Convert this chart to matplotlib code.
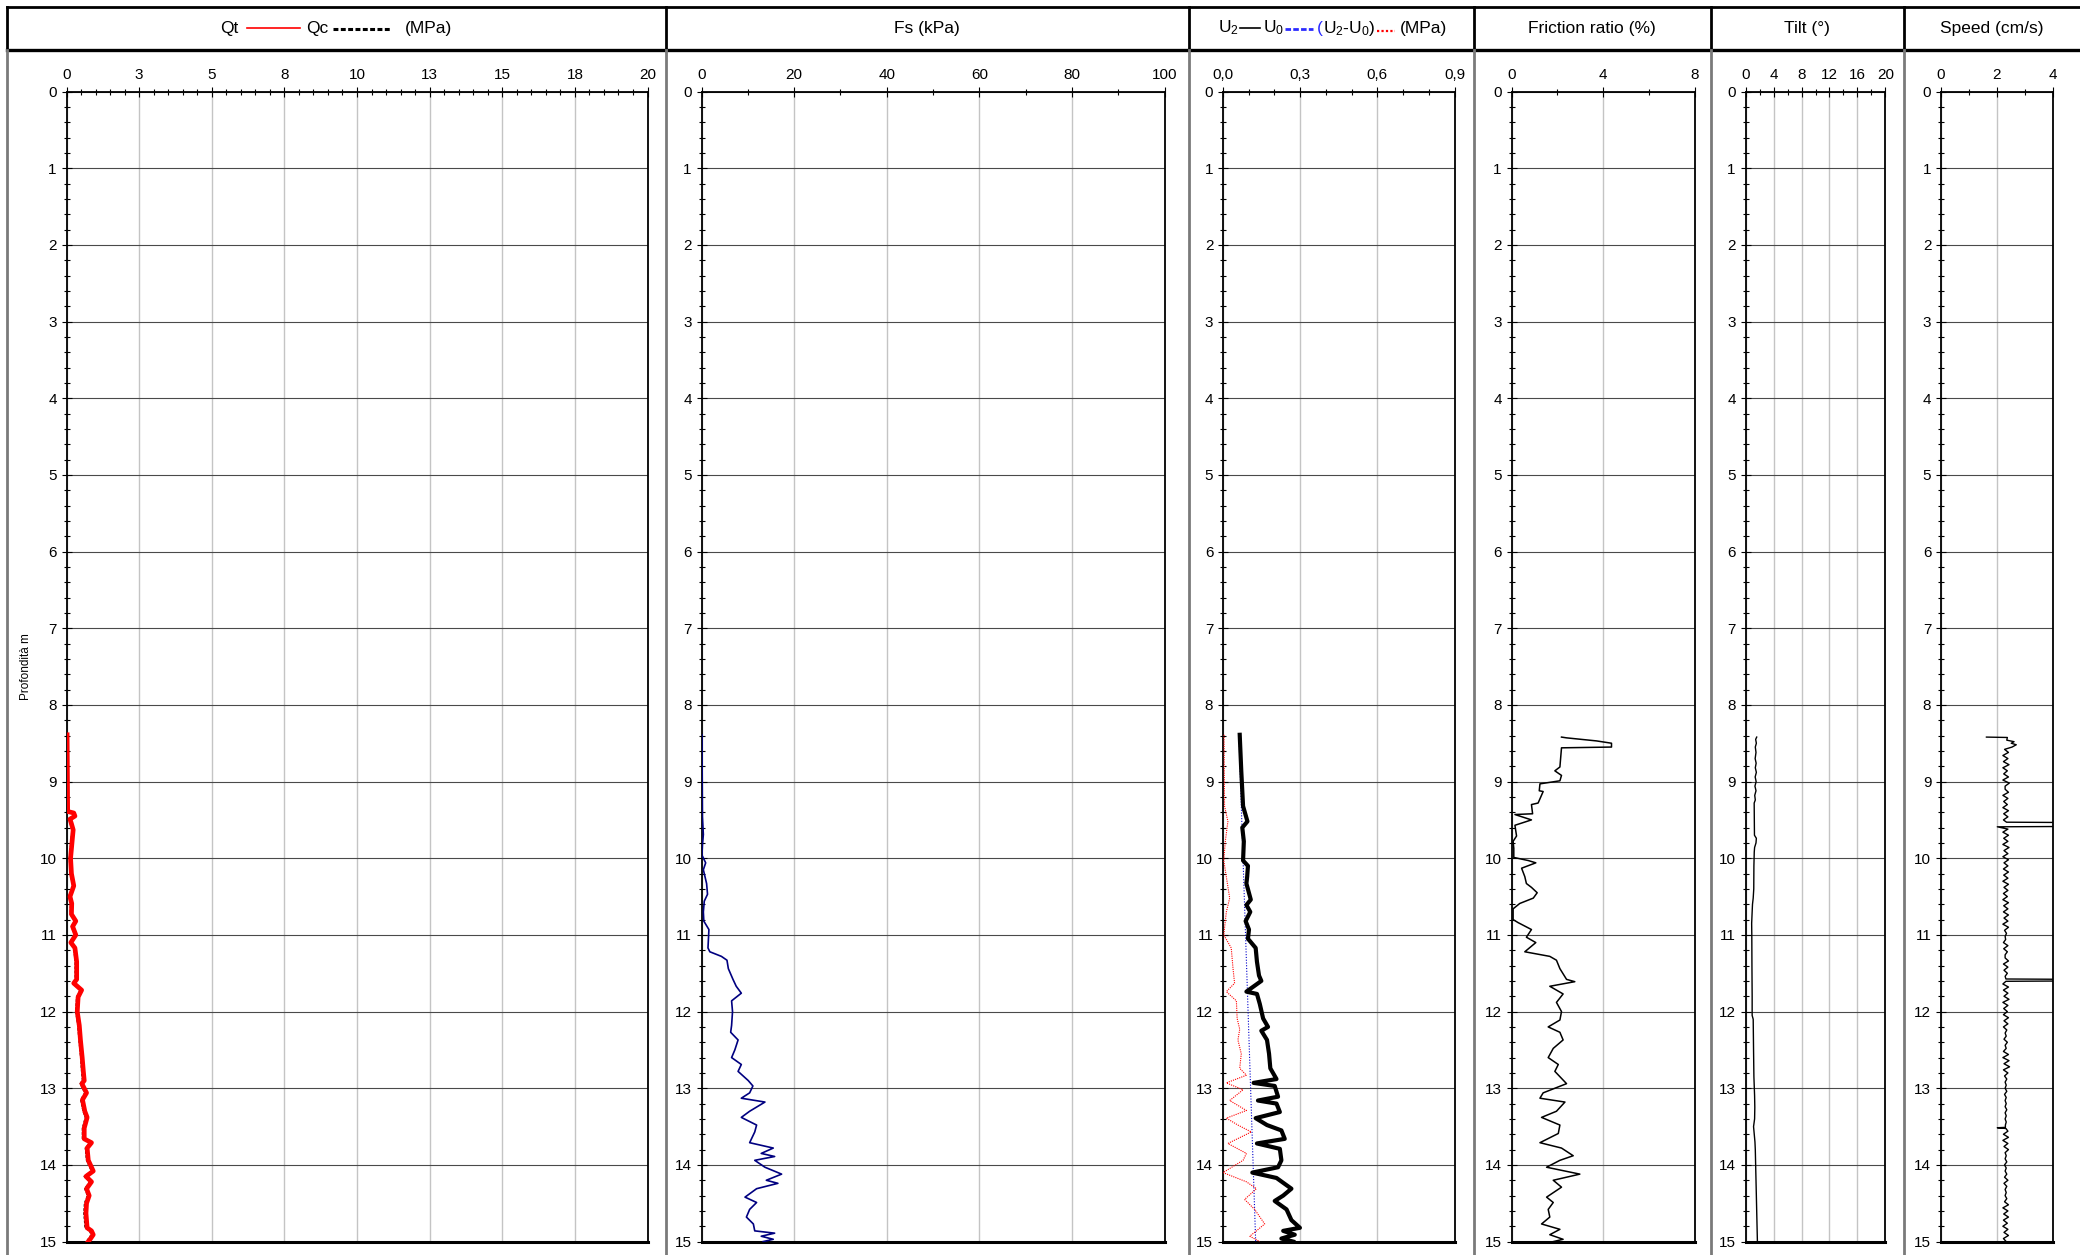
import matplotlib.pyplot as plt
from matplotlib.ticker import MultipleLocator

plt.rcParams['font.family'] = ['Liberation Sans', 'DejaVu Sans']

# --- CPT record, depth in m ---
qt_depth = [8.39, 9.39, 9.41, 9.45, 9.49, 9.55, 9.63, 9.75, 10.0, 10.2,
            10.36, 10.5, 10.59, 10.73, 10.82, 10.89, 11.0, 11.1, 11.17, 11.35,
            11.58, 11.63, 11.72, 11.81, 12.0, 12.18, 12.37, 12.6, 12.78, 12.9,
            12.94, 13.06, 13.15, 13.3, 13.38, 13.52, 13.66, 13.71, 13.78, 13.94,
            14.08, 14.15, 14.22, 14.31, 14.4, 14.5, 14.63, 14.82, 14.86, 14.91,
            14.96, 15.0]
qt = [0.02, 0.04, 0.25, 0.29, 0.12, 0.17, 0.23, 0.20, 0.14, 0.17,
      0.25, 0.12, 0.18, 0.17, 0.32, 0.21, 0.32, 0.15, 0.29, 0.35,
      0.35, 0.25, 0.52, 0.40, 0.37, 0.44, 0.48, 0.54, 0.58, 0.61,
      0.53, 0.69, 0.55, 0.63, 0.71, 0.61, 0.61, 0.86, 0.71, 0.75,
      0.92, 0.67, 0.86, 0.69, 0.78, 0.69, 0.67, 0.71, 0.86, 0.92,
      0.83, 0.75]
qc = [0.0, 0.02, 0.21, 0.25, 0.09, 0.13, 0.19, 0.16, 0.10, 0.13,
      0.21, 0.08, 0.14, 0.13, 0.28, 0.17, 0.28, 0.11, 0.25, 0.30,
      0.30, 0.21, 0.47, 0.35, 0.32, 0.39, 0.43, 0.49, 0.52, 0.55,
      0.47, 0.63, 0.49, 0.57, 0.65, 0.55, 0.55, 0.80, 0.65, 0.69,
      0.86, 0.61, 0.80, 0.63, 0.72, 0.62, 0.60, 0.64, 0.79, 0.85,
      0.76, 0.68]

fs_depth = [8.39, 9.46, 9.69, 9.83, 9.96, 10.06, 10.15, 10.33, 10.47, 10.56,
            10.7, 10.82, 10.93, 11.17, 11.22, 11.28, 11.33, 11.44, 11.58, 11.67,
            11.76, 11.86, 12.0, 12.18, 12.27, 12.37, 12.5, 12.6, 12.69, 12.78,
            12.9, 12.97, 13.06, 13.13, 13.18, 13.3, 13.38, 13.48, 13.57, 13.71,
            13.78, 13.85, 13.89, 13.94, 14.03, 14.12, 14.2, 14.24, 14.31, 14.42,
            14.49, 14.58, 14.68, 14.77, 14.86, 14.89, 14.93, 14.97, 15.0]
fs = [0.1, 0.2, 0.4, 0.2, 0.1, 0.9, 0.4, 1.1, 1.3, 0.6,
      0.4, 0.5, 1.6, 1.4, 1.8, 4.3, 5.5, 5.8, 6.8, 7.5,
      8.6, 6.5, 6.7, 6.5, 6.3, 7.9, 7.2, 6.5, 8.6, 7.9,
      10.1, 11.1, 10.4, 8.6, 13.7, 10.4, 8.6, 11.9, 11.5, 10.4,
      15.5, 12.9, 15.8, 11.5, 13.7, 17.3, 14.0, 16.5, 11.9, 9.4,
      11.9, 10.4, 9.7, 11.2, 11.5, 15.8, 12.9, 15.5, 13.3]

u2_depth = [8.39, 8.86, 9.32, 9.52, 9.6, 9.78, 10.03, 10.1, 10.24, 10.33,
            10.54, 10.61, 10.7, 10.82, 10.93, 11.05, 11.17, 11.35, 11.53, 11.6,
            11.74, 11.77, 11.9, 12.09, 12.2, 12.25, 12.37, 12.55, 12.74, 12.88,
            12.93, 12.97, 13.11, 13.16, 13.2, 13.31, 13.39, 13.48, 13.55, 13.66,
            13.72, 13.79, 13.94, 14.03, 14.1, 14.17, 14.31, 14.4, 14.47, 14.58,
            14.72, 14.82, 14.86, 14.91, 14.96, 15.0]
u2 = [0.065, 0.071, 0.078, 0.095, 0.075, 0.081, 0.078, 0.097, 0.094, 0.091,
      0.108, 0.091, 0.106, 0.088, 0.101, 0.097, 0.127, 0.132, 0.140, 0.149,
      0.091, 0.132, 0.143, 0.156, 0.175, 0.149, 0.171, 0.179, 0.184, 0.208,
      0.119, 0.201, 0.214, 0.136, 0.208, 0.221, 0.127, 0.171, 0.227, 0.240,
      0.132, 0.221, 0.227, 0.214, 0.114, 0.208, 0.266, 0.234, 0.201, 0.247,
      0.266, 0.299, 0.234, 0.279, 0.227, 0.273]

u0_depth = [8.39, 15.0]
u0 = [0.062, 0.127]

du_depth = [8.39, 9.32, 9.52, 9.78, 10.03, 10.52, 10.7, 11.0, 11.17, 11.44,
            11.63, 11.74, 11.86, 12.09, 12.23, 12.37, 12.55, 12.74, 12.83, 12.93,
            13.02, 13.16, 13.29, 13.39, 13.48, 13.57, 13.72, 13.85, 13.94, 14.1,
            14.22, 14.31, 14.45, 14.58, 14.77, 14.86, 14.93, 15.0]
du = [0.004, 0.006, 0.019, 0.009, 0.003, 0.026, 0.013, 0.003, 0.032, 0.039,
      0.045, 0.013, 0.052, 0.055, 0.065, 0.058, 0.071, 0.065, 0.091, 0.013,
      0.078, 0.026, 0.091, 0.013, 0.058, 0.110, 0.019, 0.091, 0.078, 0.0,
      0.091, 0.130, 0.084, 0.123, 0.162, 0.130, 0.104, 0.143]

fr_depth = [8.42, 8.43, 8.47, 8.50, 8.55, 8.56, 8.81, 8.86, 8.92, 8.99,
            9.03, 9.12, 9.13, 9.28, 9.30, 9.42, 9.43, 9.50, 9.57, 9.71,
            9.78, 9.87, 9.99, 10.03, 10.06, 10.13, 10.24, 10.33, 10.38, 10.45,
            10.52, 10.59, 10.66, 10.80, 10.84, 10.93, 11.03, 11.10, 11.22, 11.28,
            11.33, 11.44, 11.58, 11.61, 11.67, 11.77, 11.88, 12.00, 12.11, 12.20,
            12.27, 12.37, 12.48, 12.60, 12.69, 12.78, 12.94, 13.06, 13.13, 13.18,
            13.30, 13.38, 13.48, 13.59, 13.71, 13.78, 13.88, 13.94, 14.03, 14.12,
            14.20, 14.29, 14.42, 14.49, 14.58, 14.68, 14.77, 14.84, 14.91, 14.97,
            15.00]
fr = [2.18, 2.40, 3.71, 4.36, 4.36, 2.18, 2.11, 1.89, 2.18, 2.11,
      1.24, 1.21, 1.38, 1.16, 0.87, 0.92, 0.15, 0.87, 0.15, 0.22,
      0.07, 0.10, 0.10, 0.73, 1.06, 0.44, 0.58, 0.65, 0.87, 1.12,
      0.95, 0.36, 0.07, 0.07, 0.29, 0.87, 0.65, 1.06, 0.58, 1.67,
      1.96, 2.11, 2.40, 2.76, 1.67, 2.25, 1.96, 2.18, 2.11, 1.60,
      2.11, 2.25, 1.82, 1.60, 2.04, 1.89, 2.40, 1.38, 1.24, 2.33,
      1.96, 1.31, 2.11, 2.04, 1.24, 2.18, 2.69, 2.11, 1.53, 2.98,
      1.82, 2.18, 1.53, 1.82, 1.60, 1.67, 1.31, 2.11, 1.67, 2.25,
      1.82]

tilt_depth = [8.42, 8.45, 8.50, 8.55, 8.62, 8.70, 8.76, 8.82, 8.88, 8.94,
              9.00, 9.06, 9.12, 9.18, 9.24, 9.28, 9.50, 9.70, 9.74, 9.80,
              9.86, 9.92, 10.10, 10.40, 10.52, 10.60, 10.70, 10.85, 11.00, 11.40,
              11.80, 12.05, 12.10, 12.50, 12.85, 13.10, 13.25, 13.40, 13.50, 13.55,
              13.70, 13.80, 14.00, 14.20, 14.40, 14.60, 14.80, 15.00]
tilt = [1.60, 1.45, 1.55, 1.40, 1.50, 1.38, 1.52, 1.40, 1.55, 1.38,
        1.52, 1.35, 1.50, 1.32, 1.40, 1.24, 1.26, 1.28, 1.55, 1.50,
        1.30, 1.25, 1.20, 1.18, 1.10, 1.00, 0.95, 0.88, 0.90, 0.92,
        0.95, 0.95, 1.10, 1.15, 1.20, 1.30, 1.33, 1.30, 1.15, 1.20,
        1.35, 1.40, 1.45, 1.50, 1.55, 1.60, 1.65, 1.70]

speed_depth = [8.42, 8.425, 8.46, 8.48, 8.50, 8.52, 8.55, 8.58, 8.62, 8.66,
               8.70, 8.74, 8.78, 8.82, 8.86, 8.90, 8.94, 8.98, 9.02, 9.06,
               9.10, 9.14, 9.18, 9.22, 9.26, 9.30, 9.34, 9.38, 9.42, 9.46,
               9.50, 9.53, 9.535, 9.585, 9.59, 9.62, 9.66, 9.70, 9.74, 9.78,
               9.82, 9.86, 9.90, 9.94, 9.98, 10.02, 10.06, 10.10, 10.14, 10.18,
               10.22, 10.26, 10.30, 10.34, 10.38, 10.42, 10.46, 10.50, 10.54, 10.58,
               10.62, 10.66, 10.70, 10.74, 10.78, 10.82, 10.86, 10.90, 10.94, 10.98,
               11.02, 11.06, 11.10, 11.14, 11.18, 11.22, 11.26, 11.30, 11.34, 11.38,
               11.42, 11.46, 11.50, 11.54, 11.575, 11.58, 11.60, 11.605, 11.64, 11.68,
               11.72, 11.76, 11.80, 11.84, 11.88, 11.92, 11.96, 12.00, 12.04, 12.08,
               12.12, 12.16, 12.20, 12.24, 12.28, 12.32, 12.36, 12.40, 12.44, 12.48,
               12.52, 12.56, 12.60, 12.64, 12.68, 12.72, 12.76, 12.80, 12.84, 12.88,
               12.92, 12.96, 13.00, 13.04, 13.08, 13.12, 13.16, 13.20, 13.24, 13.28,
               13.32, 13.36, 13.40, 13.44, 13.48, 13.51, 13.515, 13.525, 13.56, 13.60,
               13.64, 13.68, 13.72, 13.76, 13.80, 13.84, 13.88, 13.92, 13.96, 14.00,
               14.04, 14.08, 14.12, 14.16, 14.20, 14.24, 14.28, 14.32, 14.36, 14.40,
               14.44, 14.48, 14.52, 14.56, 14.60, 14.64, 14.68, 14.72, 14.76, 14.80,
               14.84, 14.88, 14.92, 14.96, 15.00]
speed = [1.63, 2.38, 2.36, 2.62, 2.52, 2.70, 2.55, 2.28, 2.42, 2.22,
         2.40, 2.24, 2.44, 2.22, 2.38, 2.25, 2.42, 2.22, 2.45, 2.30,
         2.30, 2.42, 2.22, 2.40, 2.25, 2.38, 2.22, 2.42, 2.25, 2.40,
         2.24, 2.35, 5.00, 5.00, 2.02, 2.40, 2.22, 2.42, 2.25, 2.40,
         2.22, 2.44, 2.26, 2.40, 2.22, 2.42, 2.26, 2.40, 2.24, 2.42,
         2.25, 2.40, 2.22, 2.42, 2.26, 2.40, 2.24, 2.38, 2.22, 2.42,
         2.25, 2.40, 2.24, 2.42, 2.26, 2.40, 2.22, 2.42, 2.28, 2.35,
         2.30, 2.32, 2.24, 2.40, 2.25, 2.38, 2.30, 2.30, 2.42, 2.24,
         2.40, 2.26, 2.38, 2.30, 2.33, 5.00, 5.00, 2.33, 2.22, 2.42,
         2.24, 2.40, 2.26, 2.44, 2.22, 2.40, 2.25, 2.38, 2.24, 2.42,
         2.26, 2.40, 2.24, 2.36, 2.30, 2.34, 2.26, 2.38, 2.30, 2.34,
         2.24, 2.42, 2.22, 2.44, 2.26, 2.46, 2.24, 2.40, 2.28, 2.36,
         2.30, 2.34, 2.30, 2.36, 2.28, 2.34, 2.30, 2.34, 2.30, 2.36,
         2.30, 2.34, 2.30, 2.34, 2.31, 2.31, 2.02, 2.33, 2.40, 2.24,
         2.42, 2.22, 2.40, 2.26, 2.42, 2.30, 2.34, 2.30, 2.36, 2.28,
         2.34, 2.30, 2.36, 2.28, 2.40, 2.26, 2.36, 2.30, 2.34, 2.30,
         2.36, 2.28, 2.42, 2.22, 2.40, 2.25, 2.42, 2.24, 2.38, 2.22,
         2.40, 2.26, 2.42, 2.24, 2.34]

W, H = 2080, 1255
TOP, BOT = 91.5, 1241.6
FONT = 12.5

fig = plt.figure(figsize=(W / 100, H / 100), dpi=100)

# page frame, column separators and header keys, in pixel units
bg = fig.add_axes([0, 0, 1, 1], zorder=-1)
bg.set_xlim(0, W)
bg.set_ylim(H, 0)
bg.axis('off')

HEAD_TOP, HEAD_BOT = 6.6, 50.4
seps = [6.6, 666, 1188.6, 1473.8, 1711, 1903.6]
bg.plot([6.6, W], [HEAD_TOP, HEAD_TOP], color='black', lw=2)
bg.plot([6.6, W], [HEAD_BOT, HEAD_BOT], color='black', lw=2.4)
for x in seps:
    bg.plot([x, x], [HEAD_TOP, HEAD_BOT], color='black', lw=2)
    bg.plot([x, x], [HEAD_BOT, H], color='#7a7a7a', lw=2)

ty = 28
bg.text(229, ty, 'Qt', ha='center', va='center', fontsize=FONT)
bg.plot([247, 300], [ty, ty], color='red', lw=1.2)
bg.text(317, ty, 'Qc', ha='center', va='center', fontsize=FONT)
bg.plot([333, 391], [ty + 1, ty + 1], color='black', lw=2.2, ls=(0, (1.6, 0.8)))
bg.text(429, ty, '(MPa)', ha='center', va='center', fontsize=FONT)

bg.text(927, ty, 'Fs (kPa)', ha='center', va='center', fontsize=FONT)

bg.text(1218, ty, r'$\mathregular{U_2}$', ha='left', va='center', fontsize=FONT)
bg.plot([1240, 1260], [ty, ty], color='black', lw=1.2)
bg.text(1263, ty, r'$\mathregular{U_0}$', ha='left', va='center', fontsize=FONT)
bg.plot([1285, 1313], [ty + 1, ty + 1], color='#2b2bff', lw=2, ls=(0, (2, 0.8)))
bg.text(1317, ty, '(', ha='left', va='center', fontsize=FONT, color='#2b2bff')
bg.text(1323, ty, r'$\mathregular{U_2}$-$\mathregular{U_0}$)', ha='left', va='center',
        fontsize=FONT)
bg.plot([1377, 1395], [ty + 3, ty + 3], color='red', lw=1.6, ls=(0, (1, 1)))
bg.text(1400, ty, '(MPa)', ha='left', va='center', fontsize=FONT)

bg.text(1592, ty, 'Friction ratio (%)', ha='center', va='center', fontsize=FONT)
bg.text(1807, ty, 'Tilt (°)', ha='center', va='center', fontsize=FONT)
bg.text(1992, ty, 'Speed (cm/s)', ha='center', va='center', fontsize=FONT)

bg.text(26, 667, 'Profondità m', rotation=90, ha='center', va='center', fontsize=8.5)


def panel(x0, x1, major, labels, minor):
    ax = fig.add_axes([x0 / W, 1 - BOT / H, (x1 - x0) / W, (BOT - TOP) / H])
    ticks = [major * i for i in range(len(labels))]
    ax.set_xlim(0, ticks[-1])
    ax.set_ylim(15, 0)
    ax.xaxis.tick_top()
    ax.set_xticks(ticks, labels)
    ax.xaxis.set_minor_locator(MultipleLocator(minor))
    ax.set_yticks(range(16))
    ax.yaxis.set_minor_locator(MultipleLocator(0.2))
    ax.grid(axis='x', which='major', color='#c4c4c4', lw=1.0)
    ax.grid(axis='y', which='major', color='#4a4a4a', lw=0.8)
    ax.set_axisbelow(True)
    ax.tick_params(which='both', direction='inout', labelsize=11, width=0.8)
    ax.tick_params(which='major', length=7)
    ax.tick_params(which='minor', length=5)
    ax.tick_params(axis='x', pad=3)
    for side in ['left', 'right', 'top']:
        ax.spines[side].set_linewidth(1.3)
    ax.spines['bottom'].set_linewidth(2.2)
    return ax


ax1 = panel(66.5, 647.5, 2.5, ['0', '3', '5', '8', '10', '13', '15', '18', '20'], 0.5)
ax1.plot(qc, qt_depth, color='black', lw=1, ls=(0, (2, 1)), zorder=3)
ax1.plot(qt, qt_depth, color='red', lw=3.4, zorder=3)

ax2 = panel(701.5, 1164.5, 20, ['0', '20', '40', '60', '80', '100'], 10)
ax2.plot(fs, fs_depth, color='#000080', lw=1.2, zorder=3)

ax3 = panel(1223, 1454.5, 0.3, ['0,0', '0,3', '0,6', '0,9'], 0.1)
ax3.plot(u0, u0_depth, color='#0000cc', lw=0.8, ls=(0, (1, 1.5)), zorder=3)
ax3.plot(du, du_depth, color='red', lw=0.8, ls=(0, (1, 1)), zorder=3)
ax3.plot(u2, u2_depth, color='black', lw=3, zorder=3)

ax4 = panel(1511.5, 1695, 4, ['0', '4', '8'], 2)
ax4.plot(fr, fr_depth, color='black', lw=1.1, zorder=3)

ax5 = panel(1745.5, 1885.5, 4, ['0', '4', '8', '12', '16', '20'], 2)
ax5.plot(tilt, tilt_depth, color='black', lw=1, zorder=3)

ax6 = panel(1941, 2052.5, 2, ['0', '2', '4'], 1)
ax6.plot(speed, speed_depth, color='black', lw=1, zorder=3)

fig.savefig('out.png', dpi=100)
